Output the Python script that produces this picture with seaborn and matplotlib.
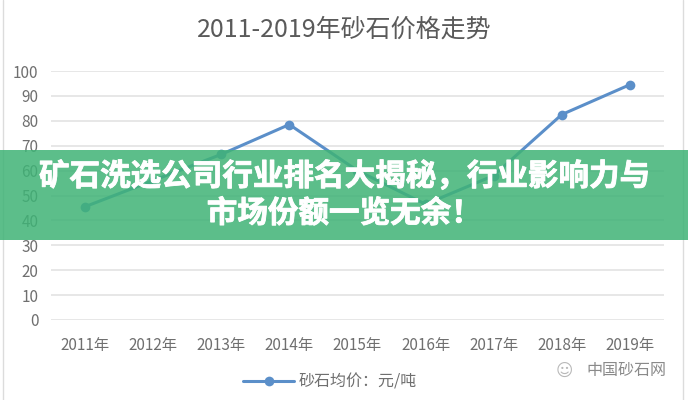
import numpy as np
import pandas as pd
import matplotlib.pyplot as plt
import matplotlib.patches as mpatches
import matplotlib.patheffects as pe
import seaborn as sns

years = ['2011年', '2012年', '2013年', '2014年', '2015年', '2016年', '2017年', '2018年', '2019年']
prices = [45.5, 56, 66.5, 78.5, 60, 46.5, 58, 82.5, 94.5]
yticks = list(range(0, 101, 10))

title = '2011-2019年砂石价格走势'
legend_label = '砂石均价：元/吨'
banner_lines = '矿石洗选公司行业排名大揭秘，行业影响力与\n市场份额一览无余！'
watermark = '中国砂石网'

sns.set_theme(style='white')
plt.rcParams['font.family'] = ['Noto Sans CJK SC', 'DejaVu Sans']

df = pd.DataFrame({'year': years, 'price': prices})

fig = plt.figure(figsize=(6.88, 4), dpi=100)
ax = fig.add_axes([0.074, 0.2, 0.891, 0.6225])

line_color = '#5b8fc9'
sns.lineplot(data=df, x='year', y='price', ax=ax, color=line_color, linewidth=2.2,
             marker='o', markersize=7, markeredgewidth=0, sort=False, label=legend_label)

ax.set_xlim(-0.5, len(years) - 0.5)
ax.set_ylim(0, 100)
ax.set_yticks(yticks)
ax.yaxis.grid(True, color='#e3e3e3', linewidth=1.2)
ax.set_axisbelow(True)
for s in ax.spines.values():
    s.set_visible(False)
ax.set_xlabel('')
ax.set_ylabel('')
ax.tick_params(axis='both', length=0, labelsize=11, colors='#6f6f6f')
ax.tick_params(axis='x', pad=12)
ax.tick_params(axis='y', pad=9)

leg = ax.legend(loc='center', bbox_to_anchor=(0.48, 0.045), bbox_transform=fig.transFigure,
                frameon=False, fontsize=11.5, handlelength=3.2, handletextpad=0.3)
for t in leg.get_texts():
    t.set_color('#6f6f6f')

fig.text(0.5, 0.925, title, ha='center', va='center', fontsize=18, color='#5a5a5a')
fig.text(0.968, 0.075, watermark, ha='right', va='center', fontsize=11.5, color='#8a8a8a')
fig.text(0.82, 0.072, '☺', ha='center', va='center', fontsize=12, color='#b8b8b8')

# green banner across the middle
fig.patches.append(mpatches.Rectangle((0, 0.4), 1, 0.225, transform=fig.transFigure,
                                      facecolor='#3fb376', alpha=0.85, edgecolor='none', zorder=5))
fig.text(0.5, 0.5125, banner_lines, ha='center', va='center', fontsize=22, fontweight='bold',
         color='white', linespacing=1.2, zorder=6,
         path_effects=[pe.withStroke(linewidth=0.6, foreground='white')])

# thin frame lines at the sides
fig.add_artist(plt.Line2D([0.005, 0.005], [0, 1], transform=fig.transFigure, color='#dcdcdc', linewidth=1))
fig.add_artist(plt.Line2D([0.993, 0.993], [0, 1], transform=fig.transFigure, color='#dcdcdc', linewidth=1))

fig.savefig('out.png', dpi=100)
